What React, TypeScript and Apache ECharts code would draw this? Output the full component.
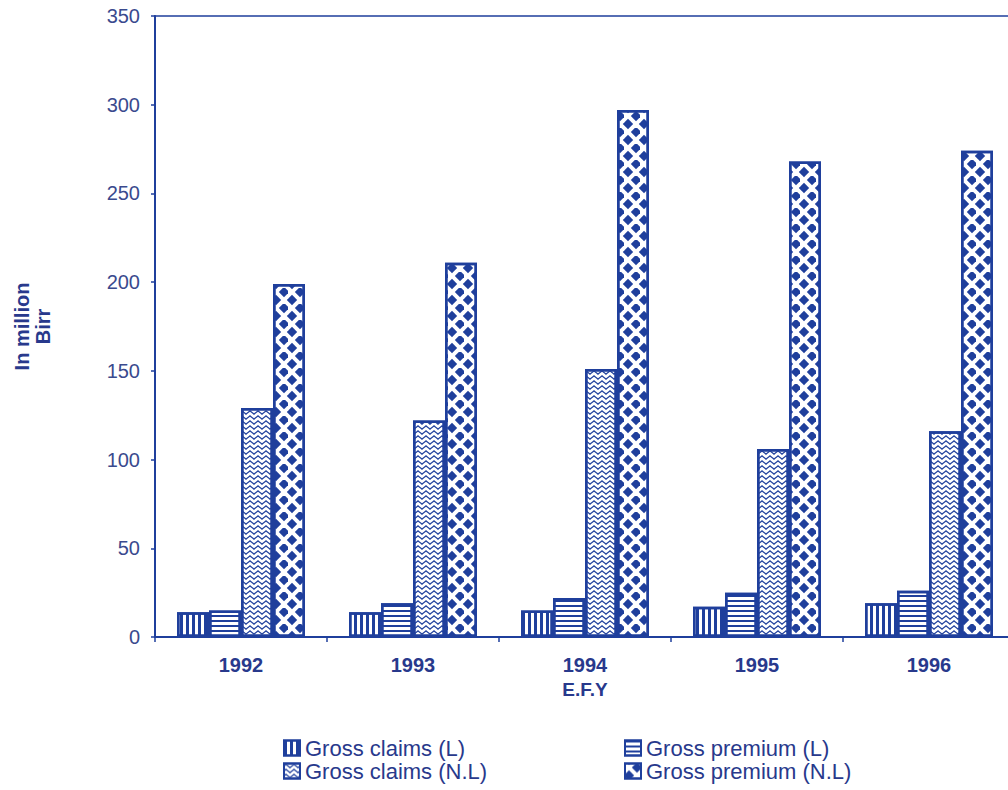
import React, { useEffect, useRef } from "react";
import * as echarts from "echarts";

const years = ["1992", "1993", "1994", "1995", "1996"];
const grossClaimsL = [14, 14, 15, 17, 19];
const grossPremiumL = [15, 19, 22, 25, 26];
const grossClaimsNL = [129, 122, 151, 106, 116];
const grossPremiumNL = [199, 211, 297, 268, 274];
const yTicks = { min: 0, max: 350, interval: 50 };
const legendNames = ["Gross claims (L)", "Gross premium (L)", "Gross claims (N.L)", "Gross premium (N.L)"];

const BLUE = "#1f3f9c";
const TEXT = "#28398c";
const FONT = "'Liberation Sans', Arial, sans-serif";

const wavePath = "path://M0,2 L2,0 L4,2 L6,4 L8,2 L8,4 L6,6 L4,4 L2,2 L0,4 Z";

function barSeries(name: string, data: number[], decal: any) {
  return {
    name,
    type: "bar",
    data,
    barWidth: 32,
    barGap: "0%",
    itemStyle: {
      color: "#ffffff",
      borderColor: BLUE,
      borderWidth: 2.5,
      decal: { color: BLUE, symbolKeepAspect: false, ...decal },
    },
  };
}

function legendFor(name: string, left: number, top: number) {
  return {
    data: [name],
    left,
    top,
    padding: 0,
    itemWidth: 16,
    itemHeight: 15,
    itemGap: 0,
    icon: "rect",
    textStyle: { color: TEXT, fontSize: 22, fontFamily: FONT, lineHeight: 22 },
  };
}

export default function App() {
  const ref = useRef<HTMLDivElement>(null);
  useEffect(() => {
    if (!ref.current) return;
    const chart = echarts.init(ref.current, undefined, { renderer: "svg" });
    chart.setOption({
      animation: false,
      backgroundColor: "#ffffff",
      textStyle: { fontFamily: FONT },
      grid: {
        left: 155,
        top: 16,
        right: -7,
        bottom: 153,
        outerBoundsMode: "none",
        containLabel: false,
        show: true,
        borderColor: BLUE,
        borderWidth: 1.5,
        backgroundColor: "transparent",
      },
      legend: [
        legendFor(legendNames[0], 283, 737),
        legendFor(legendNames[1], 624, 737),
        legendFor(legendNames[2], 283, 760),
        legendFor(legendNames[3], 624, 760),
      ],
      xAxis: {
        type: "category",
        data: years,
        name: "E.F.Y",
        nameLocation: "middle",
        nameGap: 41,
        nameTextStyle: { color: TEXT, fontSize: 19, fontWeight: "bold", fontFamily: FONT },
        axisLine: { show: true, lineStyle: { color: BLUE, width: 2 } },
        axisTick: { show: true, length: 5, lineStyle: { color: BLUE, width: 1.5 } },
        axisLabel: { color: TEXT, fontSize: 20, fontWeight: "bold", margin: 18, fontFamily: FONT },
      },
      yAxis: {
        type: "value",
        min: yTicks.min,
        max: yTicks.max,
        interval: yTicks.interval,
        name: "In million\nBirr",
        nameLocation: "middle",
        nameRotate: 90,
        nameGap: 102,
        nameTextStyle: { color: TEXT, fontSize: 20, fontWeight: "bold", lineHeight: 21, align: "center", fontFamily: FONT },
        axisLine: { show: true, lineStyle: { color: BLUE, width: 2 } },
        axisTick: { show: true, length: 4, lineStyle: { color: BLUE, width: 1.5 } },
        splitLine: { show: false },
        axisLabel: { color: "#3a4a8e", fontSize: 20, margin: 15, fontFamily: FONT },
      },
      series: [
        barSeries(legendNames[0], grossClaimsL, {
          symbol: "rect",
          symbolSize: 1,
          dashArrayX: [[3, 3]],
          dashArrayY: [10, 0],
        }),
        barSeries(legendNames[1], grossPremiumL, {
          symbol: "rect",
          symbolSize: 1,
          dashArrayX: [[10, 0]],
          dashArrayY: [2, 3],
        }),
        barSeries(legendNames[2], grossClaimsNL, {
          symbol: wavePath,
          symbolSize: 1,
          dashArrayX: [[8, 0]],
          dashArrayY: [5, 0],
        }),
        barSeries(legendNames[3], grossPremiumNL, {
          symbol: "diamond",
          symbolSize: 1.3,
          dashArrayX: [[8, 8], [0, 8, 8, 0]],
          dashArrayY: [8, 0],
        }),
      ],
    });
    return () => chart.dispose();
  }, []);
  return (
    <div
      ref={ref}
      style={{ position: "fixed", left: 0, top: 0, width: 1008, height: 790, background: "#fff" }}
    />
  );
}
